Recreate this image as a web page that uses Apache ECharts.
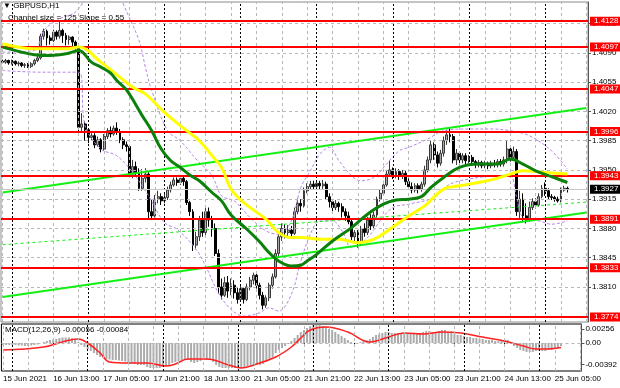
<!DOCTYPE html>
<html><head><meta charset="utf-8">
<script src="https://cdn.jsdelivr.net/npm/echarts@6/dist/echarts.min.js"></script>
<style>html,body{margin:0;padding:0;background:#fff}#c{width:620px;height:388px}</style>
</head><body><div id="c"></div>
<script>
// ---------- data ----------
const tradingDays = [['15 Jun',21,23],['16 Jun',0,23],['17 Jun',0,23],['18 Jun',0,23],['21 Jun',0,23],['22 Jun',0,23],['23 Jun',0,23],['24 Jun',0,23],['25 Jun',0,7]];
const futureSlots = 6;
const timeLabels = ['15 Jun 2021','16 Jun 13:00','17 Jun 05:00','17 Jun 21:00','18 Jun 13:00','21 Jun 05:00','21 Jun 21:00','22 Jun 13:00','23 Jun 05:00','23 Jun 21:00','24 Jun 13:00','25 Jun 05:00'];
const labelStep = 16;
const daySeparators = [3,27,51,75,99,123,147,171];
const gridStep = 8;

const open = [1.4080,1.4079,1.4081,1.4078,1.4080,1.4077,1.4078,1.4075,1.4076,1.4074,1.4077,1.4081,
1.4084,1.4110,1.4116,1.4108,1.4105,1.4115,1.4110,1.4117,1.4111,1.4106,1.4109,1.4103,
1.4097,1.4001,1.4005,1.3998,1.3989,1.3991,1.3980,1.3986,1.3975,1.3990,1.3997,1.3993,
1.4000,1.3996,1.3986,1.3980,1.3978,1.3945,1.3954,1.3947,1.3928,1.3940,1.3945,1.3900,
1.3895,1.3915,1.3918,1.3913,1.3917,1.3926,1.3932,1.3938,1.3935,1.3940,1.3936,1.3911,
1.3900,1.3860,1.3870,1.3890,1.3875,1.3900,1.3890,1.3880,1.3850,1.3810,1.3800,1.3815,
1.3805,1.3812,1.3803,1.3795,1.3808,1.3795,1.3810,1.3818,1.3824,1.3812,1.3800,1.3788,
1.3797,1.3812,1.3822,1.3850,1.3870,1.3880,1.3875,1.3878,1.3874,1.3900,1.3910,1.3907,
1.3925,1.3930,1.3933,1.3930,1.3934,1.3931,1.3933,1.3918,1.3912,1.3905,1.3910,1.3906,
1.3900,1.3895,1.3888,1.3870,1.3875,1.3863,1.3880,1.3875,1.3890,1.3883,1.3896,1.3915,
1.3922,1.3932,1.3945,1.3950,1.3944,1.3948,1.3943,1.3946,1.3936,1.3930,1.3926,1.3931,
1.3927,1.3933,1.3950,1.3962,1.3980,1.3968,1.3958,1.3970,1.3985,1.3992,1.3990,1.3962,
1.3970,1.3962,1.3967,1.3961,1.3965,1.3960,1.3956,1.3959,1.3955,1.3958,1.3955,1.3958,
1.3956,1.3960,1.3957,1.3962,1.3975,1.3965,1.3972,1.3900,1.3915,1.3895,1.3890,1.3905,
1.3912,1.3908,1.3918,1.3928,1.3925,1.3918,1.3917,1.3915,1.3913,1.3926,1.3928];
const close = [1.4079,1.4081,1.4078,1.4080,1.4077,1.4078,1.4075,1.4076,1.4074,1.4077,1.4081,1.4084,
1.4110,1.4116,1.4108,1.4105,1.4115,1.4110,1.4117,1.4111,1.4106,1.4109,1.4103,1.4097,
1.4001,1.4005,1.3998,1.3989,1.3991,1.3980,1.3986,1.3975,1.3990,1.3997,1.3993,1.4000,
1.3996,1.3986,1.3980,1.3978,1.3945,1.3954,1.3947,1.3928,1.3940,1.3945,1.3900,1.3895,
1.3915,1.3918,1.3913,1.3917,1.3926,1.3932,1.3938,1.3935,1.3940,1.3936,1.3911,1.3900,
1.3860,1.3870,1.3890,1.3875,1.3900,1.3890,1.3880,1.3850,1.3810,1.3800,1.3815,1.3805,
1.3812,1.3803,1.3795,1.3808,1.3795,1.3810,1.3818,1.3824,1.3812,1.3800,1.3788,1.3797,
1.3812,1.3822,1.3850,1.3870,1.3880,1.3875,1.3878,1.3874,1.3900,1.3910,1.3907,1.3925,
1.3930,1.3933,1.3930,1.3934,1.3931,1.3933,1.3918,1.3912,1.3905,1.3910,1.3906,1.3900,
1.3895,1.3888,1.3870,1.3875,1.3863,1.3880,1.3875,1.3890,1.3883,1.3896,1.3915,1.3922,
1.3932,1.3945,1.3950,1.3944,1.3948,1.3943,1.3946,1.3936,1.3930,1.3926,1.3931,1.3927,
1.3933,1.3950,1.3962,1.3980,1.3968,1.3958,1.3970,1.3985,1.3992,1.3990,1.3962,1.3970,
1.3962,1.3967,1.3961,1.3965,1.3960,1.3956,1.3959,1.3955,1.3958,1.3955,1.3958,1.3956,
1.3960,1.3957,1.3962,1.3975,1.3965,1.3972,1.3900,1.3915,1.3895,1.3890,1.3905,1.3912,
1.3908,1.3918,1.3928,1.3925,1.3918,1.3917,1.3915,1.3913,1.3926,1.3928,1.3927];
const low = [1.4077,1.4077,1.4076,1.4076,1.4075,1.4074,1.4073,1.4072,1.4072,1.4072,1.4075,1.4079,
1.4082,1.4106,1.4099,1.4100,1.4103,1.4106,1.4107,1.4102,1.4099,1.4100,1.4098,1.4094,
1.3996,1.3995,1.3985,1.3982,1.3985,1.3976,1.3978,1.3971,1.3973,1.3987,1.3989,1.3991,
1.3992,1.3982,1.3975,1.3972,1.3943,1.3940,1.3942,1.3925,1.3925,1.3935,1.3892,1.3890,
1.3893,1.3910,1.3908,1.3910,1.3914,1.3923,1.3930,1.3931,1.3932,1.3931,1.3908,1.3895,
1.3853,1.3855,1.3865,1.3870,1.3872,1.3882,1.3870,1.3847,1.3802,1.3795,1.3798,1.3797,
1.3800,1.3796,1.3790,1.3792,1.3790,1.3793,1.3806,1.3813,1.3808,1.3795,1.3783,1.3785,
1.3793,1.3808,1.3820,1.3845,1.3865,1.3868,1.3870,1.3869,1.3872,1.3897,1.3900,1.3905,
1.3922,1.3926,1.3926,1.3927,1.3927,1.3927,1.3915,1.3905,1.3900,1.3902,1.3900,1.3893,
1.3889,1.3885,1.3866,1.3863,1.3857,1.3860,1.3870,1.3872,1.3878,1.3880,1.3893,1.3912,
1.3920,1.3930,1.3942,1.3939,1.3940,1.3938,1.3939,1.3932,1.3926,1.3922,1.3923,1.3922,
1.3924,1.3930,1.3947,1.3958,1.3962,1.3953,1.3955,1.3966,1.3980,1.3983,1.3958,1.3956,
1.3956,1.3958,1.3957,1.3958,1.3956,1.3952,1.3953,1.3952,1.3952,1.3951,1.3952,1.3953,
1.3953,1.3954,1.3954,1.3958,1.3960,1.3961,1.3895,1.3890,1.3889,1.3886,1.3888,1.3902,
1.3904,1.3906,1.3916,1.3919,1.3914,1.3914,1.3912,1.3911,1.3911,1.3924,1.3923];
const high = [1.4082,1.4083,1.4082,1.4082,1.4081,1.4080,1.4079,1.4078,1.4078,1.4079,1.4083,1.4087,
1.4113,1.4119,1.4118,1.4111,1.4118,1.4117,1.4128,1.4119,1.4114,1.4111,1.4110,1.4105,
1.4099,1.4018,1.4008,1.4000,1.3994,1.3994,1.3990,1.3988,1.3993,1.4000,1.4002,1.4003,
1.4007,1.3999,1.3989,1.3984,1.3980,1.3962,1.3960,1.3952,1.3951,1.3952,1.3948,1.3915,
1.3920,1.3925,1.3922,1.3922,1.3930,1.3936,1.3941,1.3941,1.3943,1.3942,1.3938,1.3913,
1.3903,1.3876,1.3895,1.3900,1.3907,1.3905,1.3895,1.3886,1.3855,1.3820,1.3822,1.3823,
1.3820,1.3818,1.3810,1.3812,1.3810,1.3814,1.3822,1.3827,1.3826,1.3815,1.3804,1.3800,
1.3815,1.3826,1.3855,1.3875,1.3886,1.3885,1.3884,1.3883,1.3905,1.3916,1.3915,1.3929,
1.3934,1.3937,1.3937,1.3938,1.3937,1.3938,1.3936,1.3922,1.3915,1.3914,1.3912,1.3910,
1.3904,1.3900,1.3892,1.3878,1.3878,1.3883,1.3886,1.3894,1.3897,1.3900,1.3918,1.3926,
1.3937,1.3950,1.3961,1.3953,1.3952,1.3951,1.3950,1.3949,1.3940,1.3935,1.3934,1.3934,
1.3936,1.3955,1.3966,1.3985,1.3983,1.3972,1.3974,1.3990,1.3998,1.4000,1.3993,1.3975,
1.3972,1.3970,1.3970,1.3968,1.3968,1.3962,1.3962,1.3961,1.3961,1.3960,1.3961,1.3962,
1.3963,1.3963,1.3966,1.3985,1.3978,1.3978,1.3975,1.3925,1.3922,1.3910,1.3912,1.3916,
1.3916,1.3922,1.3932,1.3935,1.3928,1.3921,1.3919,1.3918,1.3929,1.3931,1.3930];

// moving averages / bands, read at sample bars: [barIndex, value]
const maGreen = [[0,1.4097],[6,1.4091],[10,1.4088],[15,1.4087],[20,1.4089],[24,1.4093],[28,1.4079],[31,1.4073],[34,1.4066],[36,1.4057],[39,1.4046],[44,1.4015],[47,1.3997],[50,1.3975],[53,1.3961],[56,1.3953],[59,1.3944],[62,1.3937],[66,1.3923],[69,1.3913],[72,1.3896],[77,1.3879],[81,1.3864],[84,1.3851],[87,1.3841],[91,1.3835],[94,1.3836],[96,1.3841],[99,1.3849],[104,1.3865],[110,1.3881],[115,1.3897],[120,1.3909],[124,1.3914],[128,1.3915],[132,1.3918],[135,1.3929],[139,1.3941],[144,1.3953],[150,1.3957],[156,1.3957],[160,1.3963],[164,1.3957],[168,1.3949],[173,1.3942],[178,1.3935]];
const maYellow = [[0,1.4101],[10,1.4095],[20,1.4095],[24,1.4097],[31,1.4079],[41,1.4049],[45,1.4041],[51,1.4019],[58,1.3997],[62,1.3985],[66,1.3967],[69,1.3953],[72,1.3927],[76,1.3911],[83,1.3891],[87,1.3875],[91,1.3869],[94,1.3869],[101,1.3867],[106,1.3867],[112,1.3863],[117,1.3867],[122,1.3879],[128,1.3895],[133,1.3907],[139,1.3927],[144,1.3931],[150,1.3935],[155,1.3939],[160,1.3945],[164,1.3949],[171,1.3947],[178,1.3945]];
const bandUpper = [[0,1.4091],[10,1.4093],[13,1.4117],[18,1.4131],[23,1.4139],[30,1.4170],[37,1.4160],[38,1.4149],[43,1.4105],[45,1.4073],[47,1.4045],[52,1.3997],[56,1.3985],[61,1.3963],[66,1.3943],[69,1.3919],[73,1.3913],[78,1.3893],[83,1.3877],[87,1.3873],[91,1.3889],[94,1.3929],[97,1.3949],[100,1.3969],[103,1.3977],[106,1.3961],[110,1.3943],[113,1.3937],[117,1.3941],[121,1.3957],[125,1.3973],[128,1.3977],[134,1.3987],[139,1.3997],[147,1.3999],[154,1.3999],[160,1.3997],[166,1.3991],[173,1.3973],[178,1.3951]];
const bandLower = [[0,1.4069],[12,1.4067],[24,1.4067],[26,1.4003],[31,1.3975],[36,1.3967],[41,1.3947],[46,1.3919],[51,1.3887],[55,1.3879],[61,1.3855],[64,1.3835],[68,1.3803],[72,1.3783],[76,1.3775],[81,1.3779],[84,1.3785],[87,1.3781],[91,1.3801],[94,1.3841],[97,1.3873],[100,1.3889],[104,1.3889],[107,1.3877],[110,1.3857],[115,1.3869],[119,1.3889],[123,1.3905],[128,1.3909],[136,1.3917],[141,1.3933],[150,1.3941],[156,1.3943],[160,1.3943],[162,1.3917],[164,1.3893],[169,1.3889],[173,1.3885],[178,1.3889]];

const macdMain = [-0.00036,-0.00036,-0.00036,-0.00036,-0.00036,-0.00046,-0.00046,-0.00055,-0.00055,-0.00046,-0.00036,-0.00027,0,
0.00018,0.00036,0.00055,0.00064,0.00073,0.00091,0.001,0.001,0.001,0.00091,0.00082,
0.00018,-0.00036,-0.00073,-0.00109,-0.00146,-0.00182,-0.00218,-0.00255,-0.00273,-0.00291,-0.003,-0.00309,
-0.00309,-0.00319,-0.00328,-0.00337,-0.00364,-0.00373,-0.00382,-0.004,-0.004,-0.004,-0.00437,-0.00455,
-0.00455,-0.00455,-0.00455,-0.00437,-0.00419,-0.004,-0.00364,-0.00346,-0.00328,-0.00309,-0.00309,-0.00309,
-0.00346,-0.00364,-0.00346,-0.00328,-0.00309,-0.00309,-0.00309,-0.00346,-0.004,-0.00437,-0.00455,-0.00455,
-0.00455,-0.00455,-0.00455,-0.00455,-0.00455,-0.00437,-0.00419,-0.004,-0.004,-0.004,-0.004,-0.00382,
-0.00346,-0.00309,-0.00255,-0.00182,-0.00127,-0.00091,-0.00055,-0.00018,0.00036,0.00091,0.00146,0.002,
0.00237,0.00273,0.00309,0.00328,0.00328,0.00328,0.00309,0.00291,0.00255,0.00237,0.002,0.00164,
0.00127,0.00091,0.00055,0.00018,0,0,0.00018,0.00036,0.00055,0.00073,0.00109,0.00146,
0.00164,0.00182,0.002,0.002,0.00182,0.00182,0.00182,0.00182,0.00164,0.00164,0.00164,0.00164,
0.00164,0.00182,0.002,0.00218,0.00218,0.002,0.002,0.00218,0.00237,0.00237,0.002,0.00182,
0.00164,0.00146,0.00146,0.00127,0.00109,0.00109,0.00091,0.00091,0.00073,0.00073,0.00055,0.00055,
0.00055,0.00036,0.00036,0.00055,0.00055,0.00055,-0.00018,-0.00055,-0.00091,-0.00127,-0.00146,-0.00164,
-0.00164,-0.00164,-0.00146,-0.00146,-0.00146,-0.00146,-0.00127,-0.00127,-0.00109,-0.00091,-0.00056];
const macdSignal = [[0,-0.00127],[13,-0.00073],[20,0.00036],[24,0.00073],[27,0],[31,-0.00182],[34,-0.00346],[40,-0.00364],[46,-0.00364],[52,-0.00419],[55,-0.00382],[59,-0.00291],[65,-0.00291],[72,-0.004],[76,-0.00455],[80,-0.004],[87,-0.00255],[92,-0.00073],[95,0.00091],[98,0.00237],[103,0.00291],[110,0.002],[117,0.00018],[122,0.00091],[128,0.00182],[134,0.00164],[140,0.002],[146,0.00182],[153,0.00109],[160,0.00036],[166,-0.00055],[170,-0.00109],[174,-0.00109],[178,-0.00084]];

const levels = [1.4128,1.4097,1.4047,1.3996,1.3943,1.3891,1.3833,1.3774];
const lastPrice = 1.3927;
const priceTicks = [1.4125,1.4090,1.4055,1.4020,1.3985,1.3950,1.3915,1.3880,1.3845,1.3810];
const macdTicks = [0.00256,0,-0.00392];
const channelUpper = [[0,1.3923],[184,1.4024]];
const channelMid = [[0,1.38605],[184,1.39115]];
const channelLower = [[0,1.3798],[184,1.3899]];

// ---------- build ----------
const FONT = '"Liberation Sans Narrow","Liberation Sans",Arial,sans-serif';
const categories = [];
tradingDays.forEach(([d,a,b]) => { for (let h=a; h<=b; h++) categories.push(d+' '+String(h).padStart(2,'0')+':00'); });
for (let k=0; k<futureSlots; k++) categories.push('f'+k);
const candles = open.map((o,i)=>[o, close[i], low[i], high[i]]);
const gridIdx = []; for (let i=0; i<categories.length; i+=gridStep) gridIdx.push(i);

const grayDash = {color:'#b8b8b8', type:[3,3], width:1};
const blackDot = {color:'#000', type:[2,2], width:1};
function helper(xi, yi, z, lineStyle, data){
  return {type:'line', xAxisIndex:xi, yAxisIndex:yi, data:[], z:z, silent:true,
    markLine:{symbol:['none','none'], precision:6, silent:true, animation:false, label:{show:false}, lineStyle:lineStyle, data:data}};
}
const showLabel = (i)=> i % labelStep === 0 && i/labelStep < timeLabels.length;

const option = {
  animation:false,
  backgroundColor:'#fff',
  grid:[
    {left:1, right:32, top:2, height:320, show:true, borderColor:'#8a8a8a', borderWidth:1},
    {left:1, right:32, top:324, height:47, show:true, borderColor:'#000', borderWidth:1}
  ],
  xAxis:[
    {type:'category', gridIndex:0, data:categories, boundaryGap:true, axisLine:{show:false}, axisTick:{show:false}, axisLabel:{show:false}, splitLine:{show:false}},
    {type:'category', gridIndex:1, data:categories, boundaryGap:true, axisLine:{show:false},
      axisTick:{show:true, alignWithLabel:true, interval:showLabel, length:3, lineStyle:{color:'#000'}},
      axisLabel:{interval:showLabel, formatter:(v,i)=>timeLabels[i/labelStep], align:'left', fontSize:8, fontFamily:FONT, color:'#000', margin:4},
      splitLine:{show:false}}
  ],
  yAxis:[
    {type:'value', gridIndex:0, position:'right', min:1.3768, max:1.4151, scale:true,
      axisLine:{show:true, lineStyle:{color:'#555'}},
      axisTick:{show:true, customValues:priceTicks, length:3, lineStyle:{color:'#555'}},
      axisLabel:{customValues:priceTicks, formatter:v=>v.toFixed(4), fontSize:8, fontFamily:FONT, color:'#000', margin:4},
      splitLine:{show:false}},
    {type:'value', gridIndex:1, position:'right', min:-0.0051, max:0.00346,
      axisLine:{show:true, lineStyle:{color:'#555'}},
      axisTick:{show:true, customValues:macdTicks, length:3, lineStyle:{color:'#555'}},
      axisLabel:{customValues:macdTicks, formatter:v=> v===0 ? '0.00' : v.toFixed(5), fontSize:8, fontFamily:FONT, color:'#000', margin:4},
      splitLine:{show:false}}
  ],
  series:[
    helper(0,0,1,grayDash, priceTicks.map(v=>({yAxis:v})).concat(gridIdx.map(i=>({xAxis:i})))),
    helper(0,0,2,blackDot, daySeparators.map(i=>({xAxis:i}))),
    helper(1,1,1,grayDash, gridIdx.map(i=>({xAxis:i})).concat([{yAxis:0}])),
    helper(1,1,2,blackDot, daySeparators.map(i=>({xAxis:i}))),
    {type:'candlestick', xAxisIndex:0, yAxisIndex:0, data:candles, z:3, barWidth:2.4,
      itemStyle:{color:'#a8a8a8', color0:'#000', borderColor:'#3a3a3a', borderColor0:'#000', borderWidth:1}},
    {type:'line', xAxisIndex:0, yAxisIndex:0, data:bandUpper, smooth:0.35, showSymbol:false, z:4, clip:true,
      lineStyle:{color:'#b985e6', width:1, type:[3,2]}},
    {type:'line', xAxisIndex:0, yAxisIndex:0, data:bandLower, smooth:0.35, showSymbol:false, z:4, clip:true,
      lineStyle:{color:'#b985e6', width:1, type:[3,2]}},
    {type:'line', xAxisIndex:0, yAxisIndex:0, data:maYellow, smooth:0.4, showSymbol:false, z:5,
      lineStyle:{color:'#ffff00', width:3}},
    {type:'line', xAxisIndex:0, yAxisIndex:0, data:maGreen, smooth:0.4, showSymbol:false, z:6,
      lineStyle:{color:'#0b800b', width:3}},
    {type:'line', xAxisIndex:0, yAxisIndex:0, data:[], z:7, silent:true,
      markLine:{symbol:['none','none'], precision:6, silent:true, animation:false, label:{show:false},
        data:[
          [{coord:channelUpper[0]},{coord:channelUpper[1], lineStyle:{color:'#14f014', width:2, type:'solid'}}],
          [{coord:channelLower[0]},{coord:channelLower[1], lineStyle:{color:'#14f014', width:2, type:'solid'}}],
          [{coord:channelMid[0]},{coord:channelMid[1], lineStyle:{color:'#14f014', width:1, type:[3,3]}}]
        ]}},
    {type:'line', xAxisIndex:0, yAxisIndex:0, data:[], z:8, silent:true,
      markLine:{symbol:['none','none'], precision:6, silent:true, animation:false,
        data:[{yAxis:lastPrice, lineStyle:{color:'#c8c8c8', width:1, type:'solid'},
               label:{show:true, position:'end', distance:2, formatter:lastPrice.toFixed(4), color:'#fff', backgroundColor:'#000', padding:[1,4,0,4], fontSize:8, fontFamily:FONT}}]
          .concat(levels.map(v=>({yAxis:v, lineStyle:{color:'#ff0000', width:2, type:'solid'},
               label:{show:true, position:'end', distance:2, formatter:v.toFixed(4), color:'#fff', backgroundColor:'#ff0000', padding:[1,4,0,4], fontSize:8, fontFamily:FONT}})))}},
    {type:'bar', xAxisIndex:1, yAxisIndex:1, data:macdMain, barWidth:2, z:3, itemStyle:{color:'#ababab'}},
    {type:'line', xAxisIndex:1, yAxisIndex:1, data:macdSignal, smooth:0.4, showSymbol:false, z:4,
      lineStyle:{color:'#ff2020', width:1.5}}
  ],
  graphic:[
    {type:'text', left:3, top:2, z:100, style:{text:'▼ GBPUSD,H1', font:'8px '+FONT, fill:'#000'}},
    {type:'text', left:8, top:14, z:100, style:{text:'Channel size = 125 Slope = 0.55', font:'8px '+FONT, fill:'#000'}},
    {type:'text', left:5, top:326, z:100, style:{text:'MACD(12,26,9) -0.00056 -0.00084', font:'8px '+FONT, fill:'#000'}}
  ]
};
const chart = echarts.init(document.getElementById('c'), null, {renderer:'canvas'});
chart.setOption(option);
</script></body></html>
